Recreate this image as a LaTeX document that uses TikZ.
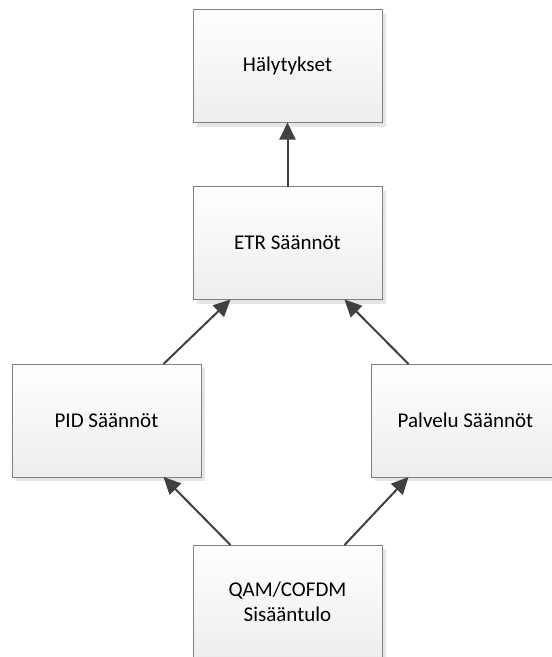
\documentclass[tikz,border=0pt]{standalone}
\usepackage{fontspec}
\setmainfont{Carlito}
\usetikzlibrary{arrows.meta,shadows}

\begin{document}
\begin{tikzpicture}[x=1pt,y=-1pt,
  box/.style={draw=black!50, line width=1pt, top color=white, bottom color=black!7,
    minimum width=189pt, minimum height=113pt, align=center,
    inner sep=0pt, outer sep=0pt, font=\fontsize{21}{25}\selectfont,
    general shadow={fill=black!10, shadow xshift=4pt, shadow yshift=-4pt}},
  arr/.style={draw=black!75, line width=2pt, -{Triangle[length=17pt,width=16pt]}}]
  \useasboundingbox (0,0) rectangle (552,657);
  \clip (0,0) rectangle (552,657);

  \node[box] (halyt) at (287.5,66) {Hälytykset};
  \node[box] (etr) at (287.5,243) {ETR Säännöt};
  \node[box] (pid) at (106.5,420.5) {PID Säännöt};
  \node[box] (palvelu) at (465.5,420.5) {Palvelu Säännöt};
  \node[box] (qam) at (287.5,601.5) {QAM/COFDM\\Sisääntulo};

  \draw[arr] (etr.north) -- (halyt.south);
  \draw[arr] ([xshift=57pt]pid.north) -- ([xshift=-57pt]etr.south);
  \draw[arr] ([xshift=-57pt]palvelu.north) -- ([xshift=57pt]etr.south);
  \draw[arr] ([xshift=-57pt]qam.north) -- ([xshift=57pt]pid.south);
  \draw[arr] ([xshift=57pt]qam.north) -- ([xshift=-57pt]palvelu.south);
\end{tikzpicture}
\end{document}
